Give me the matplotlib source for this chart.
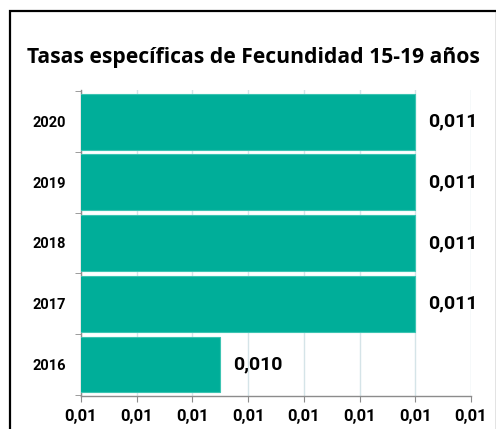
import matplotlib
matplotlib.use("Agg")
import matplotlib.pyplot as plt
from matplotlib.ticker import FixedLocator, FuncFormatter
from matplotlib.patches import Rectangle

years = ["2016", "2017", "2018", "2019", "2020"]
values = [0.01050, 0.0112, 0.0112, 0.0112, 0.0112]
labels = ["0,010", "0,011", "0,011", "0,011", "0,011"]
ticks = [0.0100, 0.0102, 0.0104, 0.0106, 0.0108, 0.0110, 0.0112, 0.0114]

W, H = 496, 429
fig = plt.figure(figsize=(W/100, H/100), dpi=100)
ax = fig.add_axes([81/W, 1-396/H, (471-81)/W, (396-90)/H])

LF = "Roboto"
bar_color = "#00AE99"
ax.barh(range(len(years)), values, height=0.92, color=bar_color,
        edgecolor="#3CC4B2", linewidth=0.8, zorder=3)
ax.set_xlim(ticks[0], ticks[-1])
ax.set_ylim(-0.52, len(years)-0.48)

ax.xaxis.set_major_locator(FixedLocator(ticks))
ax.xaxis.set_major_formatter(FuncFormatter(lambda v, p: "0,01"))
ax.set_yticks(range(len(years)))
ax.set_yticklabels(years)
ax.grid(axis="x", color="#D5E4E8", linewidth=1, zorder=0)
for s in ["top", "right"]:
    ax.spines[s].set_visible(False)
for s in ["left", "bottom"]:
    ax.spines[s].set_color("#8C8C8C")
    ax.spines[s].set_linewidth(1)
ax.tick_params(axis="x", colors="#8C8C8C", length=4, labelcolor="black", pad=5)
ax.tick_params(axis="y", colors="#8C8C8C", length=0, labelcolor="black", pad=11)
for t in ax.get_xticklabels():
    t.set_fontfamily(LF); t.set_fontweight("bold"); t.set_fontsize(12)
for t in ax.get_yticklabels():
    t.set_fontfamily(LF); t.set_fontweight("bold"); t.set_fontsize(10.5)
ax.set_yticks([i + 0.5 for i in range(-1, len(years))], minor=True)
ax.tick_params(axis="y", which="minor", length=4, colors="#8C8C8C", direction="out")

for i, (v, lab) in enumerate(zip(values, labels)):
    ax.annotate(lab, (v, i), xytext=(9, 0), textcoords="offset points",
                va="center", ha="left", fontsize=14, fontweight="bold",
                fontfamily=LF)

fig.text(0.5*(27+480)/W, 1-57/H, "Tasas específicas de Fecundidad 15-19 años",
         ha="center", va="center", fontsize=15.2, fontweight="bold",
         fontfamily="Open Sans")

fig.patches.append(Rectangle((9.5/W, -0.1), (W-9)/W, 1-10.5/H+0.1,
                             transform=fig.transFigure, fill=False,
                             edgecolor="black", linewidth=1.6))

fig.savefig("out.png", dpi=100)
